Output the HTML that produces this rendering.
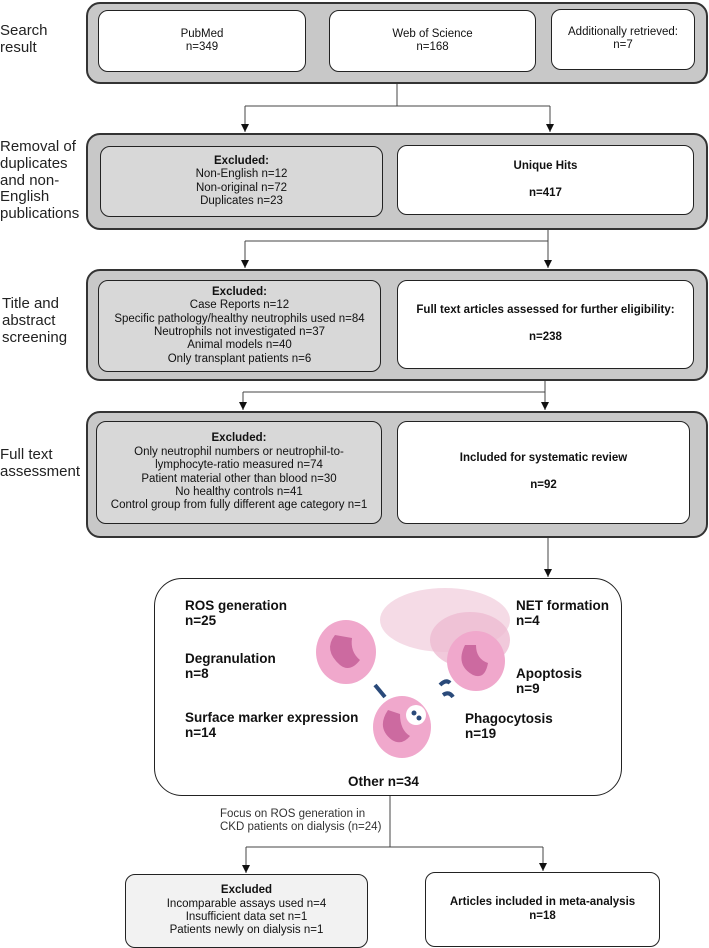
<!DOCTYPE html>
<html><head><meta charset="utf-8"><style>
body{margin:0;width:709px;height:948px;background:#fff;position:relative;overflow:hidden;font-family:"Liberation Sans",Arial,sans-serif;color:#111}
.a{position:absolute;box-sizing:border-box}
.o{background:#c8c8c8;border:2px solid #333;border-radius:14px}
.b{background:#fff;border:1.5px solid #222;border-radius:10px;display:flex;flex-direction:column;justify-content:center;align-items:center;text-align:center;font-size:11.5px;line-height:13.4px}
.g{background:#d8d8d8}
.l{font-size:15px;line-height:16.8px;color:#222}
.t{font-weight:bold;font-size:13.5px;line-height:15px;position:absolute}
</style></head><body>
<div class="a l" style="left:0;top:23px">Search<br>result</div>
<div class="a l" style="left:0;top:139px">Removal of<br>duplicates<br>and non-<br>English<br>publications</div>
<div class="a l" style="left:2px;top:296px">Title and<br>abstract<br>screening</div>
<div class="a l" style="left:0;top:447px">Full text<br>assessment</div>

<svg class="a" style="left:0;top:0" width="709" height="948">
<defs><marker id="m" markerWidth="9" markerHeight="9" refX="8" refY="4" orient="auto" markerUnits="userSpaceOnUse"><path d="M0,0 L8,4 L0,8z" fill="#111"/></marker></defs>
<g stroke="#444" stroke-width="1" fill="none">
<path d="M397,83V106M245,106H550"/>
<path d="M245,106V132" marker-end="url(#m)"/><path d="M550,106V132" marker-end="url(#m)"/>
<path d="M548,229V241M245,241H548"/>
<path d="M245,241V268" marker-end="url(#m)"/><path d="M548,241V268" marker-end="url(#m)"/>
<path d="M545,380V392M243,392H545"/>
<path d="M243,392V410" marker-end="url(#m)"/><path d="M545,392V410" marker-end="url(#m)"/>
<path d="M548,537V577" marker-end="url(#m)"/>
<path d="M390,795V847M246,847H543"/>
<path d="M246,847V873" marker-end="url(#m)"/><path d="M543,847V871" marker-end="url(#m)"/>
</g></svg>

<div class="a o" style="left:86px;top:2px;width:622px;height:82px"></div>
<div class="a b" style="left:98px;top:10px;width:208px;height:62px"><div>PubMed<br>n=349</div></div>
<div class="a b" style="left:329px;top:10px;width:207px;height:62px"><div>Web of Science<br>n=168</div></div>
<div class="a b" style="left:551px;top:9px;width:144px;height:61px;justify-content:flex-start;padding-top:16px"><div>Additionally retrieved:<br>n=7</div></div>

<div class="a o" style="left:86px;top:133px;width:622px;height:97px"></div>
<div class="a b g" style="left:100px;top:146px;width:283px;height:71px"><div><b>Excluded:</b><br>Non-English n=12<br>Non-original n=72<br>Duplicates n=23</div></div>
<div class="a b" style="left:397px;top:145px;width:297px;height:70px"><div><b>Unique Hits</b><br><br><b>n=417</b></div></div>

<div class="a o" style="left:86px;top:269px;width:622px;height:112px"></div>
<div class="a b g" style="left:98px;top:280px;width:283px;height:92px"><div><b>Excluded:</b><br>Case Reports n=12<br>Specific pathology/healthy neutrophils used n=84<br>Neutrophils not investigated n=37<br>Animal models n=40<br>Only transplant patients n=6</div></div>
<div class="a b" style="left:397px;top:280px;width:297px;height:89px"><div><b>Full text articles assessed for further eligibility:</b><br><br><b>n=238</b></div></div>

<div class="a o" style="left:86px;top:411px;width:622px;height:127px"></div>
<div class="a b g" style="left:96px;top:421px;width:286px;height:103px"><div><b>Excluded:</b><br>Only neutrophil numbers or neutrophil-to-<br>lymphocyte-ratio measured n=74<br>Patient material other than blood n=30<br>No healthy controls n=41<br>Control group from fully different age category n=1</div></div>
<div class="a b" style="left:397px;top:421px;width:293px;height:103px"><div><b>Included for systematic review</b><br><br><b>n=92</b></div></div>

<div class="a" style="left:154px;top:578px;width:468px;height:218px;border:1.5px solid #222;border-radius:28px"></div>
<svg class="a" style="left:300px;top:585px" width="230" height="190">
<ellipse cx="145" cy="35" rx="65" ry="32" fill="#f3d2e0" opacity=".8"/>
<ellipse cx="170" cy="55" rx="40" ry="28" fill="#eebbd2" opacity=".8"/>
<ellipse cx="46" cy="67" rx="30" ry="32" fill="#f0a8cc"/>
<path d="M35,50 q-12,15 5,30 q10,8 20,-5 q-10,-8 -8,-22z" fill="#cc6aa0"/>
<ellipse cx="176" cy="76" rx="29" ry="30" fill="#f0a8cc"/>
<path d="M165,60 q-10,20 8,30 q12,5 15,-12 q-12,-4 -12,-18z" fill="#cc6aa0"/>
<ellipse cx="102" cy="142" rx="29" ry="31" fill="#f0a8cc"/>
<path d="M88,125 q-12,18 4,30 q10,6 18,-4 q-10,-6 -10,-22z" fill="#cc6aa0"/>
<circle cx="116" cy="130" r="10" fill="#fff"/>
<circle cx="114" cy="128" r="2.5" fill="#2a4a7a"/><circle cx="119" cy="133" r="2.5" fill="#2a4a7a"/>
<path d="M75,100 l10,12" stroke="#2a4a7a" stroke-width="4"/>
<path d="M140,100 q6,-6 10,-2 M143,110 q6,-4 10,2" stroke="#2a4a7a" stroke-width="4" fill="none"/>
</svg>
<div class="t" style="left:185px;top:598px">ROS generation<br>n=25</div>
<div class="t" style="left:516px;top:598px">NET formation<br>n=4</div>
<div class="t" style="left:185px;top:651px">Degranulation<br>n=8</div>
<div class="t" style="left:516px;top:666px">Apoptosis<br>n=9</div>
<div class="t" style="left:185px;top:710px">Surface marker expression<br>n=14</div>
<div class="t" style="left:465px;top:711px">Phagocytosis<br>n=19</div>
<div class="t" style="left:348px;top:774px">Other n=34</div>

<div class="a" style="left:220px;top:808px;font-size:11.5px;line-height:13.4px;color:#333">Focus on ROS generation in<br>CKD patients on dialysis (n=24)</div>

<div class="a b" style="left:125px;top:874px;width:243px;height:74px;background:#f2f2f2"><div><b>Excluded</b><br>Incomparable assays used n=4<br>Insufficient data set n=1<br>Patients newly on dialysis n=1</div></div>
<div class="a b" style="left:425px;top:872px;width:235px;height:75px"><div><b>Articles included in meta-analysis</b><br><b>n=18</b></div></div>
</body></html>
